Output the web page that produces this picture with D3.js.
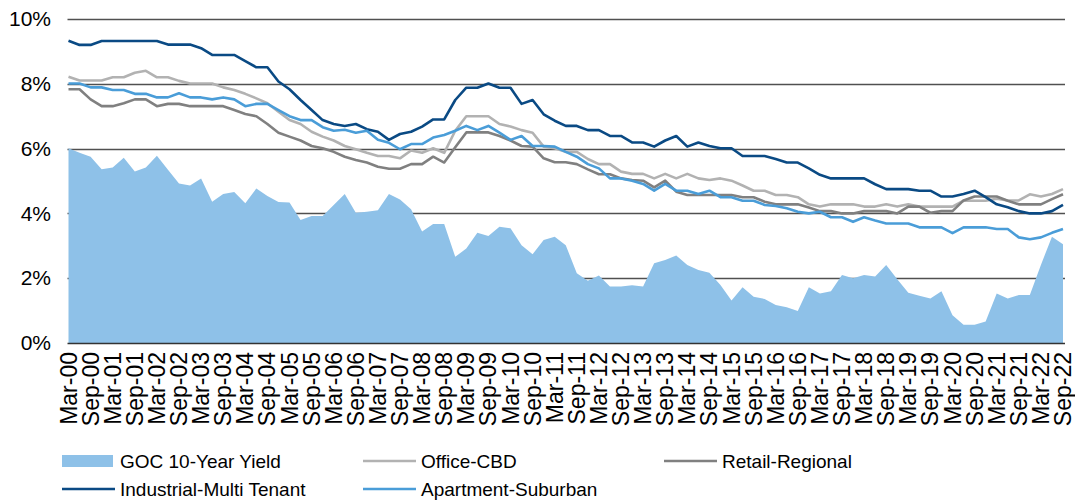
<!DOCTYPE html>
<html>
<head>
<meta charset="utf-8">
<script src="https://cdnjs.cloudflare.com/ajax/libs/d3/7.8.5/d3.min.js"></script>
<style>
  body { margin: 0; background: #fff; }
  text { font-family: "Liberation Sans", Arial, sans-serif; fill: #000; }
</style>
</head>
<body>
<div id="chart"></div>
<script>
// quarters, Mar-00 .. Sep-22
var quarters = [
  "Mar-00","Jun-00","Sep-00","Dec-00","Mar-01","Jun-01","Sep-01","Dec-01",
  "Mar-02","Jun-02","Sep-02","Dec-02","Mar-03","Jun-03","Sep-03","Dec-03",
  "Mar-04","Jun-04","Sep-04","Dec-04","Mar-05","Jun-05","Sep-05","Dec-05",
  "Mar-06","Jun-06","Sep-06","Dec-06","Mar-07","Jun-07","Sep-07","Dec-07",
  "Mar-08","Jun-08","Sep-08","Dec-08","Mar-09","Jun-09","Sep-09","Dec-09",
  "Mar-10","Jun-10","Sep-10","Dec-10","Mar-11","Jun-11","Sep-11","Dec-11",
  "Mar-12","Jun-12","Sep-12","Dec-12","Mar-13","Jun-13","Sep-13","Dec-13",
  "Mar-14","Jun-14","Sep-14","Dec-14","Mar-15","Jun-15","Sep-15","Dec-15",
  "Mar-16","Jun-16","Sep-16","Dec-16","Mar-17","Jun-17","Sep-17","Dec-17",
  "Mar-18","Jun-18","Sep-18","Dec-18","Mar-19","Jun-19","Sep-19","Dec-19",
  "Mar-20","Jun-20","Sep-20","Dec-20","Mar-21","Jun-21","Sep-21","Dec-21",
  "Mar-22","Jun-22","Sep-22"
];

// series values (%)
var gocYield = [
  6.01,5.87,5.75,5.36,5.42,5.72,5.29,5.42,5.78,5.35,4.92,4.86,5.08,4.36,4.60,4.66,
  4.31,4.77,4.54,4.35,4.34,3.80,3.92,3.92,4.26,4.60,4.02,4.05,4.10,4.60,4.43,4.13,
  3.44,3.67,3.67,2.66,2.92,3.40,3.30,3.59,3.54,3.02,2.74,3.18,3.28,3.02,2.15,1.92,
  2.08,1.74,1.74,1.78,1.74,2.46,2.56,2.70,2.41,2.25,2.17,1.79,1.31,1.72,1.43,1.36,
  1.17,1.10,0.99,1.72,1.53,1.60,2.10,2.00,2.10,2.05,2.41,1.97,1.55,1.46,1.37,1.60,
  0.86,0.56,0.56,0.66,1.53,1.37,1.48,1.48,2.41,3.28,3.05
];
var officeCBD = [
  8.22,8.10,8.10,8.10,8.20,8.20,8.34,8.40,8.20,8.20,8.09,8.01,8.01,8.01,7.89,7.81,
  7.69,7.55,7.40,7.14,6.88,6.76,6.52,6.37,6.25,6.08,5.98,5.87,5.77,5.77,5.70,5.94,
  5.87,6.01,5.87,6.55,7.00,7.00,7.00,6.76,6.68,6.57,6.49,6.06,6.01,5.90,5.90,5.68,
  5.52,5.52,5.29,5.22,5.22,5.08,5.22,5.08,5.22,5.08,5.03,5.08,5.01,4.86,4.70,4.70,
  4.57,4.57,4.50,4.28,4.21,4.28,4.28,4.28,4.21,4.21,4.28,4.21,4.28,4.21,4.21,4.21,
  4.21,4.39,4.39,4.39,4.45,4.40,4.40,4.59,4.52,4.60,4.75
];
var retailRegional = [
  7.83,7.83,7.52,7.31,7.31,7.40,7.52,7.52,7.31,7.38,7.38,7.31,7.31,7.31,7.31,7.19,
  7.07,7.00,6.76,6.49,6.37,6.25,6.08,6.01,5.90,5.75,5.65,5.57,5.44,5.38,5.38,5.52,
  5.52,5.75,5.57,6.04,6.50,6.50,6.50,6.39,6.25,6.08,6.06,5.70,5.58,5.58,5.52,5.36,
  5.21,5.21,5.08,5.03,5.01,4.80,5.01,4.67,4.57,4.57,4.57,4.57,4.57,4.50,4.50,4.36,
  4.28,4.28,4.28,4.18,4.07,4.07,4.00,4.00,4.07,4.07,4.07,4.00,4.21,4.21,4.02,4.07,
  4.07,4.40,4.52,4.52,4.52,4.39,4.28,4.28,4.28,4.44,4.59
];
var industrialMT = [
  9.33,9.20,9.20,9.32,9.32,9.32,9.32,9.32,9.32,9.21,9.21,9.21,9.10,8.89,8.89,8.89,
  8.70,8.51,8.51,8.07,7.83,7.50,7.19,6.88,6.76,6.70,6.76,6.60,6.52,6.27,6.45,6.52,
  6.68,6.90,6.90,7.50,7.88,7.88,8.01,7.88,7.88,7.38,7.50,7.06,6.86,6.70,6.70,6.57,
  6.57,6.39,6.39,6.19,6.19,6.06,6.25,6.39,6.06,6.19,6.08,6.01,6.01,5.77,5.77,5.77,
  5.68,5.57,5.57,5.39,5.19,5.08,5.08,5.08,5.08,4.90,4.75,4.75,4.75,4.70,4.70,4.52,
  4.52,4.60,4.70,4.50,4.28,4.19,4.07,4.00,4.00,4.07,4.26
];
var apartmentSub = [
  8.01,8.01,7.89,7.89,7.81,7.81,7.69,7.69,7.58,7.58,7.71,7.58,7.58,7.52,7.58,7.52,
  7.31,7.38,7.38,7.19,7.00,6.88,6.88,6.66,6.55,6.58,6.49,6.55,6.27,6.18,5.98,6.14,
  6.14,6.34,6.42,6.55,6.70,6.57,6.70,6.49,6.27,6.39,6.08,6.08,6.06,5.90,5.75,5.52,
  5.39,5.08,5.08,5.01,4.91,4.70,4.91,4.70,4.70,4.60,4.70,4.50,4.50,4.39,4.39,4.26,
  4.23,4.16,4.05,4.00,4.05,3.88,3.88,3.74,3.88,3.78,3.69,3.69,3.69,3.57,3.57,3.57,
  3.39,3.57,3.57,3.57,3.52,3.52,3.26,3.20,3.26,3.40,3.52
];

// y ticks
var yTicks = [0, 2, 4, 6, 8, 10];

// line series, drawn on top of the area
var lineSeries = [
  { name: "Office-CBD", values: officeCBD, color: "#b2b2b2" },
  { name: "Retail-Regional", values: retailRegional, color: "#808080" },
  { name: "Industrial-Multi Tenant", values: industrialMT, color: "#0a4a84" },
  { name: "Apartment-Suburban", values: apartmentSub, color: "#4a9dd8" }
];
var areaColor = "#8ec1e8";

var width = 1075;
var height = 500;
// plot box (don't call it "top", that's window.top)
var plotLeft = 68.5, plotRight = 1063, plotTop = 19, plotBottom = 343;

var svg = d3.select("#chart").append("svg")
  .attr("width", width)
  .attr("height", height);

var x = d3.scalePoint().domain(quarters).range([plotLeft, plotRight]);
var y = d3.scaleLinear().domain([0, 10]).range([plotBottom, plotTop]);

// gridlines (behind the area)
svg.append("g")
  .attr("class", "grid")
  .selectAll("line")
  .data(yTicks.filter(function(d) { return d > 0; }))
  .enter()
  .append("line")
  .attr("x1", plotLeft - 1)
  .attr("x2", plotRight + 2)
  .attr("y1", function(d) { return Math.round(y(d)) + 0.5; })
  .attr("y2", function(d) { return Math.round(y(d)) + 0.5; })
  .attr("stroke", "#505050")
  .attr("stroke-width", 1.3);

// GOC area
var area = d3.area()
  .x(function(d, i) { return x(quarters[i]); })
  .y0(y(0))
  .y1(function(d) { return y(d); });

svg.append("path")
  .datum(gocYield)
  .attr("d", area)
  .attr("fill", areaColor);

// bottom axis line
svg.append("line")
  .attr("x1", plotLeft - 1)
  .attr("x2", plotRight + 2)
  .attr("y1", Math.round(y(0)) + 0.5)
  .attr("y2", Math.round(y(0)) + 0.5)
  .attr("stroke", "#333")
  .attr("stroke-width", 1.3);

// lines
var line = d3.line()
  .x(function(d, i) { return x(quarters[i]); })
  .y(function(d) { return y(d); });

svg.selectAll(".series")
  .data(lineSeries)
  .enter()
  .append("path")
  .attr("class", "series")
  .attr("d", function(d) { return line(d.values); })
  .attr("fill", "none")
  .attr("stroke", function(d) { return d.color; })
  .attr("stroke-width", 2.6)
  .attr("stroke-linejoin", "round");

// y axis labels
var yAxis = d3.axisLeft(y)
  .tickValues(yTicks)
  .tickSize(0)
  .tickPadding(0)
  .tickFormat(function(d) { return d + "%"; });

var yg = svg.append("g")
  .attr("transform", "translate(51,0)")
  .call(yAxis);
yg.select(".domain").remove();
yg.selectAll("text")
  .attr("font-size", 21)
  .attr("font-family", "Liberation Sans, Arial, sans-serif")
  .attr("fill", "#000");

// x axis labels, every second quarter
var xAxis = d3.axisBottom(x)
  .tickValues(quarters.filter(function(d, i) { return i % 2 === 0; }))
  .tickSize(0)
  .tickPadding(0);

var xg = svg.append("g")
  .attr("transform", "translate(0," + (plotBottom + 9) + ")")
  .call(xAxis);
xg.select(".domain").remove();
xg.selectAll("text")
  .attr("font-size", 23)
  .attr("font-family", "Liberation Sans, Arial, sans-serif")
  .attr("fill", "#000")
  .attr("text-anchor", "end")
  .attr("transform", "rotate(-90)")
  .attr("x", 0)
  .attr("y", 0)
  .attr("dx", 0)
  .attr("dy", "0.33em");

// legend
var legendItems = [
  { name: "GOC 10-Year Yield", type: "area", color: areaColor, col: 0, row: 0 },
  { name: "Office-CBD", type: "line", color: "#b2b2b2", col: 1, row: 0 },
  { name: "Retail-Regional", type: "line", color: "#808080", col: 2, row: 0 },
  { name: "Industrial-Multi Tenant", type: "line", color: "#0a4a84", col: 0, row: 1 },
  { name: "Apartment-Suburban", type: "line", color: "#4a9dd8", col: 1, row: 1 }
];
var legendColX = [62, 363, 664];
var legendRowY = [461, 489];

var legend = svg.selectAll(".legend")
  .data(legendItems)
  .enter()
  .append("g")
  .attr("class", "legend")
  .attr("transform", function(d) {
    return "translate(" + legendColX[d.col] + "," + legendRowY[d.row] + ")";
  });

legend.each(function(d) {
  var g = d3.select(this);
  if (d.type === "area") {
    g.append("rect").attr("x", 0).attr("y", -6).attr("width", 51).attr("height", 12)
      .attr("fill", d.color);
  } else {
    g.append("line").attr("x1", 0).attr("x2", 53).attr("y1", 0).attr("y2", 0)
      .attr("stroke", d.color).attr("stroke-width", 2.6);
  }
});

legend.append("text")
  .attr("x", 58)
  .attr("y", 0)
  .attr("dy", "0.36em")
  .attr("font-size", 19)
  .text(function(d) { return d.name; });
</script>
</body>
</html>
